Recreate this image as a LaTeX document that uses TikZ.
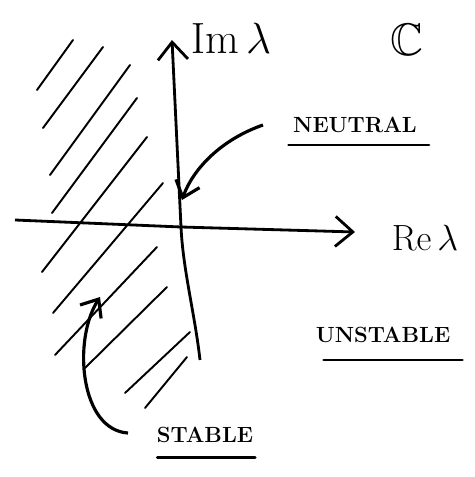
\documentclass[tikz,border=0pt]{standalone}
\usepackage{amsmath,amssymb}
\usepackage{tikz}
\usetikzlibrary{arrows.meta,positioning,calc}

\begin{document}
\begin{tikzpicture}[
    axis/.style={line width=1.6pt, -{Straight Barb[length=0.35cm, width=0.6cm, line width=1.6pt]}},
    pointer/.style={line width=1.8pt, -{Straight Barb[length=0.3cm, width=0.5cm, line width=1.8pt]}},
    hatch/.style={line width=1.1pt, line cap=round},
    uline/.style={line width=1.6pt, line cap=round},
    lbl/.style={font=\fontsize{12.5}{15}\selectfont\bfseries, inner sep=1pt},
    big/.style={font=\fontsize{22}{26}\selectfont, inner sep=1pt}
]
\useasboundingbox (0,0) rectangle (9.48,-9.54);

\coordinate (O) at (3.62,-4.54);
\coordinate (ytop) at (3.44,-0.8);
\coordinate (ybot) at (4.0,-7.2);
\coordinate (xleft) at (0.3,-4.4);
\coordinate (xright) at (7.1,-4.64);

\foreach \ax/\ay/\bx/\by in {0.74/-1.8/1.46/-0.8, 0.86/-2.56/2.06/-0.94, 1.0/-3.5/2.6/-1.3,
                   1.04/-4.26/2.74/-1.96, 0.84/-5.44/2.94/-2.74, 1.06/-6.26/3.26/-3.66,
                   1.1/-7.1/3.14/-4.94, 1.7/-7.36/3.34/-5.74, 2.5/-7.86/3.8/-6.64,
                   2.9/-8.16/3.74/-7.14}
    \draw[hatch] (\ax,\ay) -- (\bx,\by);

\draw[axis] (ybot) .. controls (3.9,-6.3) and (3.66,-5.4) .. (O) -- (ytop);
\draw[axis] (xleft) -- (O) -- (xright);

\node[big, font=\fontsize{24}{28}\selectfont] (im) at (4.62,-0.76) {$\mathrm{Im}\,\lambda$};
\node[font=\fontsize{26}{30}\selectfont] (C) at (8.14,-0.8) {$\mathbb{C}$};
\node[big] (re) at (8.5,-4.76) {$\mathrm{Re}\,\lambda$};
\node[lbl] (neutral) at (7.1,-2.5) {NEUTRAL};
\node[lbl] (unstable) at (7.66,-6.7) {UNSTABLE};
\node[lbl] (stable) at (4.1,-8.7) {STABLE};

\draw[uline] ([shift={(-0.05,-0.2)}]neutral.south west) -- ([shift={(0.2,-0.2)}]neutral.south east);
\draw[uline] ([shift={(0.2,-0.3)}]unstable.south west) -- ([shift={(0.2,-0.3)}]unstable.south east);
\draw[uline] ([shift={(0.05,-0.25)}]stable.south west) -- ([shift={(0.0,-0.25)}]stable.south east);

\coordinate (na) at (5.26,-2.5);
\coordinate (nb) at (3.64,-4.0);
\draw[pointer] (na) .. controls (4.4,-2.8) and (3.85,-3.4) .. (nb);

\coordinate (sa) at (2.56,-8.66);
\coordinate (sb) at (2.0,-5.94);
\draw[pointer] (sa) .. controls (1.6,-8.6) and (1.45,-6.8) .. (sb);
\end{tikzpicture}
\end{document}
